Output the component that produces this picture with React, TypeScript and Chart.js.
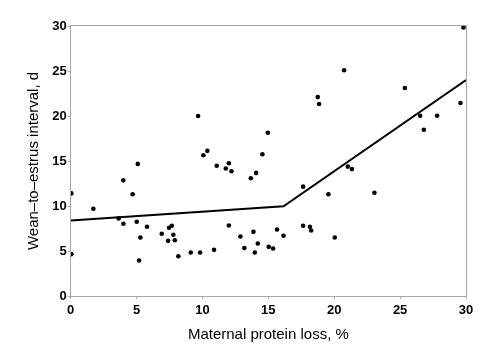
import React, { useEffect, useRef } from "react";
import { Chart, registerables } from "chart.js";

Chart.register(...registerables);

const pointsX = [
  0.05, 0.05, 1.72, 3.64, 3.99, 4.0, 4.7, 5.01, 5.09, 5.29, 5.19, 5.79, 6.91, 7.39, 7.46, 7.67,
  7.79, 7.9, 8.17, 9.11, 9.67, 9.82, 10.07, 10.37, 10.88, 11.08, 11.77, 12.0, 12.2, 12.0, 12.88,
  13.18, 13.67, 14.07, 13.87, 13.97, 14.2, 14.55, 14.96, 15.03, 15.36, 15.66, 16.15, 17.64, 17.64,
  18.15, 18.25, 18.75, 18.85, 19.56, 20.04, 20.75, 21.03, 21.34, 23.05, 25.36, 26.52, 26.8, 27.81,
  29.58, 29.81,
];
const pointsY = [
  11.4, 4.65, 9.7, 8.62, 12.85, 8.03, 11.3, 8.25, 14.68, 6.5, 3.94, 7.69, 6.91, 6.13, 7.58, 7.8,
  6.8, 6.2, 4.42, 4.83, 20.0, 4.83, 15.64, 16.13, 5.13, 14.47, 14.16, 14.75, 13.86, 7.84, 6.61,
  5.32, 13.08, 13.68, 7.13, 4.83, 5.83, 15.75, 18.14, 5.46, 5.27, 7.39, 6.69, 12.15, 7.8,
  7.69, 7.28, 22.1, 21.33, 11.3, 6.5, 25.08, 14.38, 14.1, 11.48, 23.11, 20.03, 18.47, 20.03,
  21.44, 29.84,
];
const fitX = [0, 16.15, 30];
const fitY = [8.38, 9.96, 24.0];
const xTicks = [0, 5, 10, 15, 20, 25, 30];
const yTicks = [0, 5, 10, 15, 20, 25, 30];

const GREY = "#a8a8a8";
const FAMILY = "Liberation Sans, Arial, sans-serif";

export default function App() {
  const ref = useRef<HTMLCanvasElement>(null);
  useEffect(() => {
    const frame = {
      id: "frame",
      afterDraw(chart: any) {
        const { ctx, chartArea } = chart;
        ctx.save();
        ctx.strokeStyle = GREY;
        ctx.lineWidth = 1;
        ctx.strokeRect(
          Math.round(chartArea.left) - 0.5,
          Math.round(chartArea.top) - 0.5,
          Math.round(chartArea.right - chartArea.left) + 1,
          Math.round(chartArea.bottom - chartArea.top) + 1
        );
        ctx.restore();
      },
    };
    const chart = new Chart(ref.current!, {
      type: "scatter",
      data: {
        datasets: [
          {
            type: "line",
            data: fitX.map((x, i) => ({ x, y: fitY[i] })),
            borderColor: "#000",
            borderWidth: 2,
            pointRadius: 0,
            fill: false,
          } as any,
          {
            data: pointsX.map((x, i) => ({ x, y: pointsY[i] })),
            backgroundColor: "#000",
            borderColor: "#000",
            pointRadius: 2.3,
            borderWidth: 0,
          },
        ],
      },
      options: {
        animation: false,
        responsive: false,
        layout: { padding: { top: 26, right: 34, left: 25, bottom: 0 } },
        plugins: { legend: { display: false }, tooltip: { enabled: false } },
        scales: {
          x: {
            type: "linear",
            min: 0,
            max: 30,
            afterBuildTicks: (s: any) => {
              s.ticks = xTicks.map((v) => ({ value: v }));
            },
            afterFit: (s: any) => {
              s.height = 51;
            },
            grid: { display: true, drawOnChartArea: false, drawTicks: true, tickLength: 3, color: GREY },
            border: { display: true, color: GREY },
            ticks: {
              color: "#000",
              padding: 4,
              maxRotation: 0,
              font: { family: FAMILY, size: 13, weight: "bold" },
            },
            title: {
              display: true,
              text: "Maternal protein loss, %",
              color: "#000",
              padding: { top: 2, bottom: 3 },
              font: { family: FAMILY, size: 15 },
            },
          },
          y: {
            type: "linear",
            min: 0,
            max: 30,
            afterBuildTicks: (s: any) => {
              s.ticks = yTicks.map((v) => ({ value: v }));
            },
            afterFit: (s: any) => {
              s.width = 45.7;
            },
            grid: { display: true, drawOnChartArea: false, drawTicks: true, tickLength: 3, color: GREY },
            border: { display: true, color: GREY },
            ticks: {
              color: "#000",
              padding: 1,
              font: { family: FAMILY, size: 13, weight: "bold" },
            },
            title: {
              display: true,
              text: "Wean–to–estrus interval, d",
              color: "#000",
              padding: { top: 0, bottom: 2 },
              font: { family: FAMILY, size: 15 },
            },
          },
        },
      },
      plugins: [frame],
    } as any);
    return () => chart.destroy();
  }, []);
  return (
    <div style={{ position: "absolute", left: 0, top: 0, width: 500, height: 347, background: "#fff" }}>
      <canvas ref={ref} width={500} height={347} />
    </div>
  );
}
